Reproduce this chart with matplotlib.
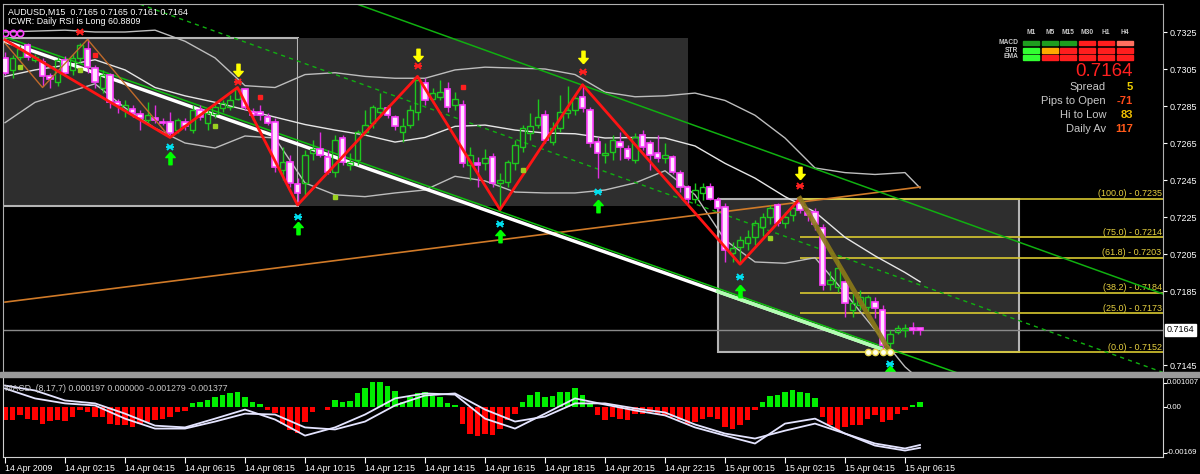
import numpy as np
import matplotlib
matplotlib.use("Agg")
import matplotlib.pyplot as plt
from matplotlib.patches import Rectangle

plt.rcParams['font.family'] = ['Liberation Sans', 'DejaVu Sans']

W, H = 1200, 474

# AUDUSD M15 bars, prices in pips (x 0.0001); bar 0 = 14 Apr 2009 00:00
opens = np.array([
    7311, 7304.5, 7311.5, 7318, 7310, 7309, 7301, 7298, 7310, 7304.5,
    7311, 7316, 7305.5, 7295, 7302, 7287, 7283, 7283.5, 7280.5, 7277.4,
    7278.5, 7276.4, 7276.4, 7272, 7276.4, 7272, 7283, 7276, 7280.5, 7284,
    7284.5, 7289, 7294, 7282, 7282, 7279, 7276.4, 7250.4, 7254.5, 7243,
    7243.4, 7259.5, 7262, 7257.5, 7249.3, 7267.7, 7253, 7256, 7271, 7276,
    7281.8, 7284, 7279, 7271, 7274.7, 7281.8, 7297.5, 7289, 7290, 7294,
    7285.5, 7285.5, 7253, 7254, 7254, 7257.5, 7243.4, 7244, 7254, 7263,
    7270.4, 7275, 7280, 7265.5, 7273, 7281, 7283, 7290, 7283, 7265.5,
    7258.5, 7260, 7265.5, 7262, 7256, 7269.3, 7265, 7259.5, 7257, 7257.5,
    7248.8, 7241, 7235, 7238, 7241, 7234, 7230.4, 7205.5, 7209, 7211,
    7214, 7219.5, 7225, 7231.5, 7222, 7226, 7232.5, 7227.7, 7227.7, 7219,
    7189, 7187, 7190, 7175, 7177.4, 7176.5, 7179, 7175, 7157, 7163,
    7164, 7165, 7165]) / 10000
highs = np.array([
    7314, 7312.5, 7318, 7319, 7313, 7311, 7303, 7311.5, 7312, 7313,
    7319, 7321, 7307, 7304.5, 7303, 7289, 7288, 7285.5, 7283, 7287,
    7285.5, 7278.5, 7282, 7278.5, 7278.5, 7285.5, 7285.5, 7284, 7286.5, 7288,
    7291, 7295, 7295, 7284, 7285.5, 7281, 7278.5, 7263, 7258.5, 7246,
    7261, 7266.6, 7271, 7261, 7269.3, 7269.3, 7259.5, 7272, 7283, 7285.5,
    7292, 7285.5, 7280, 7278.5, 7285.5, 7300.7, 7300, 7295, 7299, 7298,
    7292.5, 7288, 7263, 7257.5, 7262, 7259.5, 7249, 7256, 7266.6, 7275,
    7281, 7289, 7283, 7276.4, 7291, 7296, 7291, 7296.5, 7284.5, 7268,
    7265, 7269.3, 7271, 7264, 7270.4, 7272, 7266.6, 7269.3, 7265, 7258.5,
    7250.4, 7242.5, 7243.4, 7243.4, 7243.4, 7236, 7232.5, 7211.5, 7215, 7218,
    7223.5, 7227, 7231.5, 7232.5, 7227.7, 7232.5, 7235, 7230, 7230, 7221,
    7196, 7202, 7191, 7184, 7185.5, 7183, 7181.5, 7177.4, 7164, 7166.6,
    7167, 7168, 7165]) / 10000
lows = np.array([
    7302, 7300, 7310, 7310, 7309, 7296, 7295, 7296, 7301, 7302,
    7309, 7303, 7295, 7292, 7284, 7281, 7279, 7279, 7272, 7276,
    7276, 7275, 7268, 7270.4, 7272, 7270.4, 7277.4, 7272, 7278.5, 7282,
    7283, 7288, 7283, 7277.4, 7277.4, 7274.5, 7249.3, 7245, 7241, 7231.5,
    7237, 7256, 7257.5, 7248, 7246.6, 7253, 7250.4, 7253, 7269.3, 7273,
    7280, 7278.5, 7272, 7265.5, 7273, 7277.4, 7285.5, 7286.5, 7288, 7282,
    7283, 7252, 7245, 7241, 7250.4, 7241, 7229, 7241, 7250.4, 7260,
    7266.6, 7273, 7265, 7264, 7271, 7278.5, 7280, 7282, 7263, 7246,
    7254, 7256, 7256, 7256, 7254, 7261, 7250.4, 7255, 7254, 7248,
    7238.5, 7231.5, 7232.5, 7234, 7234, 7228, 7200.7, 7200.7, 7199.5, 7207,
    7210, 7215, 7221, 7220, 7219, 7223, 7227, 7223, 7218, 7185.5,
    7185.5, 7184.5, 7171, 7171, 7175, 7173.5, 7170.5, 7153, 7152, 7161.5,
    7160, 7161.5, 7161]) / 10000
closes = np.array([
    7303, 7311, 7316, 7311.5, 7311.5, 7301, 7299.5, 7310, 7303, 7311,
    7318, 7306, 7298, 7302, 7287, 7285.5, 7285.5, 7281, 7278.5, 7280,
    7277.4, 7276, 7270.4, 7277.4, 7274, 7283, 7279, 7281, 7284.5, 7286.5,
    7288, 7294, 7284.5, 7280, 7280, 7276, 7252, 7254.5, 7243.4, 7238,
    7258.5, 7262, 7258.5, 7249.3, 7266.6, 7254.7, 7254.7, 7271, 7275, 7284.5,
    7284, 7280, 7274, 7274, 7283, 7299, 7288, 7292, 7292.5, 7284.5,
    7289, 7254, 7258.5, 7253, 7257, 7243.4, 7245, 7255, 7264, 7273,
    7274, 7279, 7266.6, 7273, 7282, 7283, 7289.5, 7284, 7265, 7259.5,
    7259.5, 7266.6, 7263, 7257, 7268, 7263, 7258.5, 7257, 7258.5, 7249.3,
    7241, 7235, 7239.6, 7241, 7235, 7230, 7207, 7208, 7212.5, 7214,
    7222, 7225, 7230, 7222, 7225, 7230, 7229, 7226, 7221, 7188,
    7191, 7197.5, 7178.5, 7178.5, 7182, 7181.5, 7176, 7156, 7162, 7165,
    7165, 7164, 7164]) / 10000

# Bollinger bands sampled every 4 bars (+ last bar)
band_bars = [0, 4, 8, 12, 16, 20, 24, 28, 32, 36, 40, 44, 48, 52, 56, 60,
             64, 68, 72, 76, 80, 84, 88, 92, 96, 100, 104, 108, 112, 116, 120, 122]
bb_upper = np.array([7325, 7325.5, 7326, 7325, 7325, 7326, 7320, 7311, 7296, 7295,
                     7302, 7303, 7301, 7300, 7300, 7304.5, 7306, 7305.5, 7305, 7302,
                     7292.5, 7290, 7290.5, 7292, 7288, 7280, 7267.7, 7251.5, 7249,
                     7248, 7249, 7240.7]) / 10000
bb_middle = np.array([7301, 7304.5, 7307, 7310, 7304.5, 7295, 7290.5, 7287, 7283, 7279,
                      7275, 7272, 7269.3, 7265.5, 7268, 7274, 7274.7, 7272, 7270.4, 7270,
                      7267.7, 7268, 7267.7, 7263.4, 7254, 7246, 7236, 7227.7, 7214,
                      7204, 7195, 7190]) / 10000
bb_lower = np.array([7276, 7287, 7292, 7297, 7284, 7273, 7265, 7262.3, 7268.8, 7267.7,
                     7243.4, 7237, 7236, 7238, 7239.6, 7247, 7244.5, 7238.5, 7238, 7238,
                     7239.6, 7243.4, 7250, 7237, 7212.6, 7200.7, 7200, 7203, 7184,
                     7164, 7144, 7137]) / 10000

# MACD (8,17,7)
macd_hist = [
    -0.00043, -0.00041, -0.00026, -0.00038, -0.00041, -0.00057, -0.00046, -0.00043, -0.00046, -0.00032,
    -0.00009, -0.00015, -0.00032, -0.00032, -0.00055, -0.0006, -0.0006, -0.00066, -0.00057, -0.00049,
    -0.00043, -0.00038, -0.00032, -0.00015, -0.00011, 0.00014, 0.00019, 0.00027, 0.00036, 0.00042,
    0.0005, 0.00054, 0.00036, 0.00019, 0.00011, -0.00007, -0.0002, -0.00055, -0.00078, -0.00087,
    -0.00049, -0.00015, 0.00002, -0.00007, 0.00025, 0.00019, 0.00023, 0.00048, 0.00065, 0.00088,
    0.00088, 0.00073, 0.00057, 0.00019, 0.00036, 0.00048, 0.00054, 0.00039, 0.00036, 0.00014,
    0.00008, -0.00055, -0.00089, -0.00098, -0.00089, -0.00095, -0.00072, -0.00043, -0.00021, 0.00019,
    0.00042, 0.00054, 0.00036, 0.00039, 0.00054, 0.00054, 0.00065, 0.00042, 0.00014, -0.00026,
    -0.00043, -0.00034, -0.00038, -0.00041, -0.00023, -0.00021, -0.00015, -0.00021, -0.00026, -0.00032,
    -0.00041, -0.00055, -0.00049, -0.00038, -0.00032, -0.00038, -0.00066, -0.00075, -0.0006, -0.00041,
    -0.00007, 0.00019, 0.00039, 0.00042, 0.00054, 0.00059, 0.00054, 0.0005, 0.00031, -0.00032,
    -0.0006, -0.00078, -0.00066, -0.0006, -0.0006, -0.00038, -0.00026, -0.00049, -0.00041, -0.00021,
    -0.00007, 0.00008, 0.000197]
macd_main = [0.00075, 0.00058, 0.00024, 0.00014, -0.00021, -0.00062, -0.00068, -0.00038,
             -0.00007, -0.00041, -0.00096, -0.00068, -0.00024, 0.00031, 0.00048, 0.00044,
             -0.00038, -0.00072, -0.00021, 0.00031, 0.0001, -0.0001, -0.00027, -0.00068,
             -0.00096, -0.00123, -0.00055, -0.00038, -0.00089, -0.00123, -0.0014, -0.001279]
macd_signal = [0.00065, 0.00031, 0.00014, 0.00007, -0.00038, -0.00072, -0.00072, -0.00048,
               -0.00021, -0.00024, -0.00068, -0.00075, -0.00048, 0.00007, 0.00041, 0.00048,
               -0.00007, -0.00048, -0.00031, 0.00014, 0.00014, -0.00003, -0.00017, -0.00058,
               -0.00089, -0.00106, -0.00079, -0.00055, -0.00089, -0.0013, -0.00147, -0.001377]

# session boxes
box_start = [-0.3, 39.1, 95.1]
box_end = [39.1, 91.1, 135.2]
box_low = [0.7231, 0.7231, 0.7152]
box_high = [0.7322, 0.7322, 0.7235]
box_edge = ['#b4b4b4', 'none', '#b4b4b4']

# zigzag pivots
zz_bars = [0, 22, 31, 39, 55, 66, 77, 98, 106]
zz_prices = [0.73207, 0.7268, 0.7295, 0.72315, 0.7301, 0.7229, 0.72965, 0.71995, 0.7235]
last_leg_bars = [106, 118]
last_leg_prices = [0.7235, 0.7152]
small_zz_bars = [0, 5, 11, 22]
small_zz_prices = [0.7319, 0.7295, 0.7321, 0.7268]

# trend / channel lines (two anchor points each)
white_line = ([0, 118], [0.7320, 0.7152])
green_low_line = ([0, 127], [0.73223, 0.71407])
green_up_line = ([47, 154.4], [0.7340, 0.71834])
green_mid_line = ([18, 154.4], [0.7340, 0.7141])
orange_line = ([0, 122], [0.7179, 0.72412])

# fibonacci retracement
fib_start_bar = 106
fib_pct = [100.0, 75.0, 61.8, 38.2, 25.0, 0.0]
fib_price = [0.7235, 0.7214, 0.7203, 0.7184, 0.7173, 0.7152]

# signal markers
sell_arrow_bars = [31, 55, 77, 106]
sell_arrow_prices = [0.73045, 0.73125, 0.73115, 0.7249]
sell_x_bars = [10, 31, 55, 77, 106]
sell_x_prices = [0.7325, 0.7298, 0.73066, 0.73034, 0.72418]
buy_bars = [22, 39, 66, 79, 98, 118]
buy_arrow_prices = [0.7257, 0.7219, 0.7215, 0.7231, 0.7185, 0.7141]
buy_x_prices = [0.7263, 0.7225, 0.7221, 0.72385, 0.71925, 0.71455]
green_dot_bars = [2, 10, 28, 44, 69, 102]
green_dot_prices = [0.7306, 0.73045, 0.7274, 0.7236, 0.72504, 0.72135]
red_dot_bars = [12, 34, 61]
red_dot_prices = [0.73125, 0.7290, 0.72955]
pink_ring_bars = [0, 1, 2]
pink_ring_price = 0.73245
low_ring_bars = [115, 116, 117, 118]
low_ring_price = 0.7152

last_price = 0.7164
price_ticks = [0.7325, 0.7305, 0.7285, 0.7265, 0.7245, 0.7225, 0.7205, 0.7185, 0.7145]
tick_bars = [0, 8, 16, 24, 32, 40, 48, 56, 64, 72, 80, 88, 96, 104, 112, 120]
time_labels = ['14 Apr 2009', '14 Apr 02:15', '14 Apr 04:15', '14 Apr 06:15',
               '14 Apr 08:15', '14 Apr 10:15', '14 Apr 12:15', '14 Apr 14:15',
               '14 Apr 16:15', '14 Apr 18:15', '14 Apr 20:15', '14 Apr 22:15',
               '15 Apr 00:15', '15 Apr 02:15', '15 Apr 04:15', '15 Apr 06:15']

# dashboard
timeframes = ['M1', 'M5', 'M15', 'M30', 'H1', 'H4']
dash_rows = ['MACD', 'STR', 'EMA']
dash_colors = [['#1e9e1e', '#1e9e1e', '#1e9e1e', '#ff1e1e', '#ff1e1e', '#ff7060'],
               ['#32ff32', '#ffaa00', '#ff1e1e', '#ff1e1e', '#ff1e1e', '#ff1e1e'],
               ['#32ff32', '#ff1e1e', '#ff1e1e', '#ff1e1e', '#ff1e1e', '#ff1e1e']]
stat_names = ['Spread', 'Pips to Open', 'Hi to Low', 'Daily Av']
stat_values = ['5', '-71', '83', '117']
stat_colors = ['#f0d000', '#ff4a1a', '#f0c000', '#ff5a1a']


def fx(px):
    return px / W


def fy(py):
    return 1 - py / H


fig = plt.figure(figsize=(12, 4.74), dpi=100, facecolor='black')
xlim = (-0.27, 154.4)

# ---------------- main price pane ----------------
ax = fig.add_axes([fx(3), fy(372), fx(1163) - fx(3), fy(4) - fy(372)])
ax.set_facecolor('black')
ax.set_xlim(*xlim)
ax.set_ylim(0.714122, 0.734014)

for s, e, lo, hi, ec in zip(box_start, box_end, box_low, box_high, box_edge):
    ax.add_patch(Rectangle((s, lo), e - s, hi - lo, facecolor='#2e2e2e',
                           edgecolor=ec, lw=1.5, zorder=0.5))

ax.axhline(last_price, color='#8a8a8a', lw=1, zorder=1)

for pct, lvl in zip(fib_pct, fib_price):
    ax.hlines(lvl, fib_start_bar, xlim[1], color='#d8c830', lw=1.2, zorder=1)
    ax.text(xlim[1] - 0.2, lvl + 0.00002, f'({pct:.1f}) - {lvl:.4f}', color='#e6d040',
            fontsize=6.5, ha='right', va='bottom', zorder=1)

for b in (bb_upper, bb_lower):
    ax.plot(band_bars, b, color='#bdbdbd', lw=1, zorder=1.5)
ax.plot(band_bars, bb_middle, color='#e6e6e6', lw=1, zorder=1.5)

ax.plot(*orange_line, color='#d07a28', lw=1.2, zorder=2)
ax.plot(*green_up_line, color='#10b010', lw=1.1, zorder=2)
ax.plot(*green_mid_line, color='#10b010', lw=1, ls=(0, (3, 3)), zorder=2)
ax.plot(*green_low_line, color='#10c010', lw=1.1, zorder=2.1)
ax.plot(*white_line, color='white', lw=2.5, zorder=2.2)
pale_x = np.array([95, 118])
pale_y = np.interp(pale_x, *white_line)
ax.plot(pale_x, pale_y, color='#b0ffb0', lw=2.5, zorder=2.3)

# candles
xb = np.arange(len(closes))
bull = closes >= opens
body_lo = np.minimum(opens, closes)
body_hi = np.maximum(opens, closes)
body_h = np.maximum(body_hi - body_lo, 0.00002)
wick_col = np.where(bull, '#1ec81e', '#e030e0')
ax.vlines(xb, body_hi, highs, colors=wick_col, lw=1, zorder=3)
ax.vlines(xb, lows, body_lo, colors=wick_col, lw=1, zorder=3)
ax.bar(xb[bull], body_h[bull], bottom=body_lo[bull], width=0.7, facecolor='none',
       edgecolor='#1ec81e', lw=1, zorder=3)
ax.bar(xb[~bull], body_h[~bull], bottom=body_lo[~bull], width=0.7, facecolor='#ffe4ff',
       edgecolor='#ff40ff', lw=1.2, zorder=3)

ax.plot(small_zz_bars, small_zz_prices, color='#c06a2a', lw=1, zorder=3.5)
ax.plot(zz_bars, zz_prices, color='#ff1414', lw=2, zorder=4)
ax.plot(last_leg_bars, last_leg_prices, color='#8c7a18', lw=3.5, alpha=0.9, zorder=4)

up_arrow = [(0, 1), (0.75, 0.15), (0.25, 0.15), (0.25, -1), (-0.25, -1),
            (-0.25, 0.15), (-0.75, 0.15), (0, 1)]
down_arrow = [(px_, -py_) for px_, py_ in up_arrow]
ax.plot(sell_arrow_bars, sell_arrow_prices, ls='none', marker=down_arrow, ms=9,
        color='#ffff00', mec='#ffff00', zorder=5)
ax.plot(buy_bars, buy_arrow_prices, ls='none', marker=up_arrow, ms=9,
        color='#00ff00', mec='#00ff00', zorder=5)
for m, sz in (('x', 4), ('_', 6)):
    ax.plot(sell_x_bars, sell_x_prices, ls='none', marker=m, ms=sz, mew=1.4,
            color='#ff2020', zorder=5)
    ax.plot(buy_bars, buy_x_prices, ls='none', marker=m, ms=sz, mew=1.4,
            color='#00e0f0', zorder=5)
ax.plot(green_dot_bars, green_dot_prices, ls='none', marker='s', ms=2.5,
        color='#9ad020', zorder=5)
ax.plot(red_dot_bars, red_dot_prices, ls='none', marker='s', ms=2.5,
        color='#ff2020', zorder=5)
ax.plot(pink_ring_bars, [pink_ring_price] * len(pink_ring_bars), ls='none', marker='o',
        ms=4.5, mfc='none', mec='#ff40ff', mew=1.2, zorder=5)
ax.plot(low_ring_bars, [low_ring_price] * len(low_ring_bars), ls='none', marker='o',
        ms=4.5, mfc='#fffff0', mec='#e8d850', mew=1, zorder=5)

ax.set_xticks([])
ax.yaxis.tick_right()
ax.set_yticks(price_ticks)
ax.set_yticklabels([f'{t:.4f}' for t in price_ticks])
ax.tick_params(axis='y', colors='white', labelsize=6.5, length=3, pad=2)
for sp in ax.spines.values():
    sp.set_color('#b0b0b0')
ax.text(1.0035, last_price, f'{last_price:.4f}', transform=ax.get_yaxis_transform(),
        color='black', fontsize=6.5, ha='left', va='center',
        bbox=dict(facecolor='white', edgecolor='white', pad=1.2))

fig.text(fx(8), fy(12), 'AUDUSD,M15  0.7165 0.7165 0.7161 0.7164', color='white',
         fontsize=6.4, va='center')
fig.text(fx(8), fy(22), 'ICWR: Daily RSI is Long 60.8809', color='white',
         fontsize=6.4, va='center')

# dashboard (top right)
tf_x = [1031, 1050, 1068, 1087, 1106, 1125]
row_y = [43, 50.5, 57.5]
for tx, tf in zip(tf_x, timeframes):
    fig.text(fx(tx), fy(33), tf, color='#c8c8c8', fontsize=4.8, ha='center',
             va='center', fontweight='bold')
for ry, name, cols in zip(row_y, dash_rows, dash_colors):
    fig.text(fx(1018), fy(ry - 0.5), name, color='#c8c8c8', fontsize=4.8, ha='right',
             va='center', fontweight='bold')
    for tx, c in zip(tf_x, cols):
        fig.patches.append(Rectangle((fx(tx - 8), fy(ry + 2.3)), 15.5 / W, 4.6 / H,
                                     transform=fig.transFigure, color=c))
fig.text(fx(1133), fy(72), f'{last_price:.4f}', color='#ff2020', fontsize=13.5,
         ha='right', va='center')
for i, (nm, val, col) in enumerate(zip(stat_names, stat_values, stat_colors)):
    yy = 87 + i * 14
    fig.text(fx(1106), fy(yy), nm, color='#c8c8c8', fontsize=8, ha='right', va='center')
    fig.text(fx(1133), fy(yy), val, color=col, fontsize=8, ha='right', va='center',
             fontweight='bold')

# separator between panes
fig.patches.append(Rectangle((0, fy(377)), 1, fy(372) - fy(377),
                             transform=fig.transFigure, color='#9a9a9a'))

# ---------------- MACD pane ----------------
axm = fig.add_axes([fx(3), fy(457), fx(1163) - fx(3), fy(378) - fy(457)])
axm.set_facecolor('black')
axm.set_xlim(*xlim)
axm.set_ylim(-0.00169, 0.001007)
hist = np.array(macd_hist)
axm.bar(np.arange(len(hist)), hist, width=0.68,
        color=np.where(hist >= 0, '#00ee00', '#ff0000'), zorder=2)
axm.plot(band_bars, macd_main, color='#e4e4ff', lw=1.3, zorder=3)
axm.plot(band_bars, macd_signal, color='#e4e4ff', lw=1.3, zorder=3)
axm.text(0.002, 0.93, 'MACD  (8,17,7) 0.000197 0.000000 -0.001279 -0.001377',
         transform=axm.transAxes, color='#c8c8c8', fontsize=6.3, va='top')

axm.yaxis.tick_right()
axm.set_yticks([0.00085, 0.0, -0.00155])
axm.set_yticklabels([])
axm.tick_params(axis='y', colors='white', length=3)
ytr = axm.get_yaxis_transform()
for val, txt in ((0.00085, '0.001007'), (0.0, '0.00'), (-0.00155, '-0.00169')):
    axm.text(1.0035, val, txt, transform=ytr, color='white', fontsize=5.6,
             va='center', ha='left')

axm.set_xticks(tick_bars)
axm.set_xticklabels(time_labels)
axm.tick_params(axis='x', colors='white', labelsize=6.3, length=4, pad=1)
for lbl in axm.get_xticklabels():
    lbl.set_ha('left')
for sp in axm.spines.values():
    sp.set_color('#d0d0d0')
axm.spines['top'].set_visible(False)

fig.savefig('out.png', dpi=100, facecolor='black')
